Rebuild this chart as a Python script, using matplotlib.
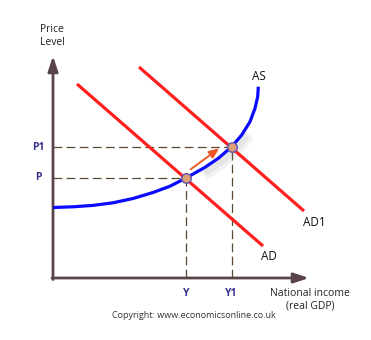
import matplotlib
matplotlib.use("Agg")
import matplotlib.pyplot as plt
import matplotlib.patheffects as pe

# ---- data (diagram units: origin at the axes corner) ----
income_labels = ["Y", "Y1"]
income_values = [133, 178.7]
price_labels = ["P", "P1"]
price_values = [100, 131]

ad_x = [24, 210]
ad_y = [194, 32]
ad1_x = [86, 251]
ad1_y = [211, 67]

as_x = [0, 20, 40, 60, 80, 100, 117, 133, 152, 165.3, 178.7,
        188.7, 197, 202, 204.7, 205.3]
as_y = [70.5, 71.2, 72.6, 75.2, 79.5, 85.5, 91.8, 100, 110.7, 119.7, 131.3,
        143, 156.3, 169.7, 181.3, 191.3]

shift_from = [137.7, 108.7]
shift_to = [166.3, 129.7]

# ---- figure ----
fig = plt.figure(figsize=(3.71, 3.40), dpi=100)
ax = fig.add_axes([0, 0, 1, 1])
ax.set_xlim(-53, 318)
ax.set_ylim(-62, 278)
ax.axis("off")

font = "Open Sans"
axis_col = "#5b4449"
dash_col = "#5a4830"
lab_col = "#37338a"

# dashed guides
for xv, yv in zip(income_values, price_values):
    ax.plot([0, xv], [yv, yv], color=dash_col, lw=0.9, dashes=(7, 3.5), zorder=1)
    ax.plot([xv, xv], [0, yv], color=dash_col, lw=0.9, dashes=(7, 3.5), zorder=1)

# axes with arrows
ax.annotate("", xy=(0, 222), xytext=(0, -1.5),
            arrowprops=dict(arrowstyle="-|>,head_length=0.9,head_width=0.3",
                            color=axis_col, lw=2, shrinkA=0, shrinkB=0), zorder=3)
ax.annotate("", xy=(256, 0), xytext=(-1, 0),
            arrowprops=dict(arrowstyle="-|>,head_length=0.9,head_width=0.3",
                            color=axis_col, lw=2, shrinkA=0, shrinkB=0), zorder=3)

# AD curves
ax.plot(ad_x, ad_y, color="#ff1f1f", lw=2.3, solid_capstyle="butt", zorder=2)
ax.plot(ad1_x, ad1_y, color="#ff1f1f", lw=2.3, solid_capstyle="butt", zorder=2)

# soft shadow under the upper part of AS
ax.plot(as_x[8:12], as_y[8:12], color="none", lw=2.2, zorder=1.5,
        path_effects=[pe.SimpleLineShadow(offset=(2.5, -3), shadow_color="#888888", alpha=0.10,
                                          linewidth=9),
                      pe.SimpleLineShadow(offset=(2, -2.5), shadow_color="#888888", alpha=0.12,
                                          linewidth=5)])
ax.plot(as_x, as_y, color="#0a0aff", lw=2.3, solid_capstyle="butt", solid_joinstyle="round",
        zorder=3)

# shift arrow
ax.annotate("", xy=tuple(shift_to), xytext=tuple(shift_from),
            arrowprops=dict(arrowstyle="-|>,head_length=0.6,head_width=0.25",
                            color="#f0582a", lw=1.4, shrinkA=0, shrinkB=0), zorder=4)

# equilibrium points
ax.plot(income_values, price_values, "o", ms=6.8, mfc="#dfa174", mec="#6a5bb0", mew=1.1, zorder=5)

# curve labels
ax.text(206, 202, "AS", fontsize=8.5, family=font, ha="center", va="center", color="#111111")
ax.text(261, 56, "AD1", fontsize=8.5, family=font, ha="center", va="center", color="#111111")
ax.text(216, 22, "AD", fontsize=8.5, family=font, ha="center", va="center", color="#111111")

# tick labels
for lab, xv in zip(income_labels, income_values):
    ax.text(xv, -15, lab, fontsize=7.5, family=font, fontweight="bold", ha="center", va="center",
            color=lab_col)
for lab, yv in zip(price_labels, price_values):
    ax.text(-15, yv, lab, fontsize=7.5, family=font, fontweight="bold", ha="center", va="center",
            color=lab_col)

# axis titles
ax.text(-1, 242, "Price\nLevel", fontsize=7.5, family=font, ha="center", va="center",
        color="#222222", linespacing=1.25)
ax.text(257, -22, "National income\n(real GDP)", fontsize=7.5, family=font, ha="center",
        va="center", color="#222222", linespacing=1.25)
ax.text(141, -38, "Copyright: www.economicsonline.co.uk", fontsize=6.5, family=font,
        ha="center", va="center", color="#333333")

fig.savefig("out.png", dpi=100)
